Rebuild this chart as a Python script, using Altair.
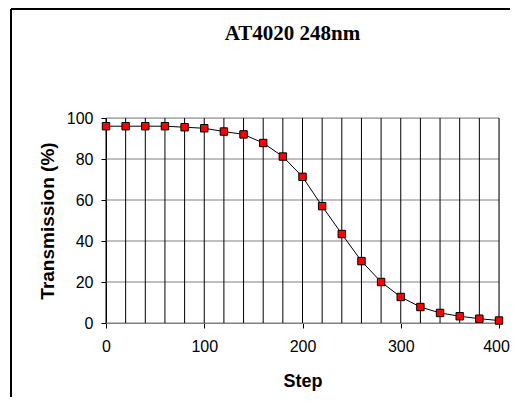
import altair as alt
import pandas as pd

steps = [0, 20, 40, 60, 80, 100, 120, 140, 160, 180, 200, 220, 240, 260, 280, 300, 320, 340, 360, 380, 400]
transmission = [96.0, 96.0, 96.0, 96.0, 95.5, 95.0, 93.4, 92.0, 87.8, 81.2, 71.3, 57.0, 43.4, 30.2, 20.0, 12.7, 7.8, 4.9, 3.3, 2.1, 1.2]
y_ticks = [0, 20, 40, 60, 80, 100]
x_labels = [0, 100, 200, 300, 400]

df = pd.DataFrame({"Step": steps, "Transmission": transmission})
grid_df = pd.DataFrame({"Transmission": y_ticks})

W, H = 393, 205
LEFT, TOP = 98, 110

xscale = alt.Scale(domain=[0, 400], nice=False)
yscale = alt.Scale(domain=[0, 100], nice=False)

xaxis = alt.Axis(title="Step", values=x_labels, grid=False, labelFlush=False,
                 labelOffset={"condition": {"test": "datum.value == 400", "value": -3}, "value": 0},
                 labelFont="Liberation Sans", labelFontSize=16, labelColor="black",
                 labelPadding=10, tickSize=5, tickColor="black",
                 domainColor="#808080", titleFont="Liberation Sans", titleFontSize=18,
                 titleFontWeight="bold", titleColor="black", titleY=63,
                 titleBaseline="alphabetic")
yaxis = alt.Axis(title="Transmission (%)", values=y_ticks, labelFlush=False, grid=False,
                 labelFont="Liberation Sans", labelFontSize=16, labelColor="black",
                 labelPadding=8, tickSize=5, tickColor="black",
                 domainColor="black", titleFont="Liberation Sans", titleFontSize=19,
                 titleFontWeight="bold", titleColor="black", titleX=-53,
                 titleBaseline="alphabetic")

xs = alt.X("Step:Q", scale=xscale, axis=xaxis)
ys = alt.Y("Transmission:Q", scale=yscale, axis=yaxis)

hgrid = alt.Chart(grid_df).mark_rule(color="#808080", strokeWidth=1).encode(
    y=ys, x=alt.value(0), x2=alt.value(W))

vgrid = alt.Chart(df).mark_rule(color="black", strokeWidth=1).encode(
    x=xs, y=alt.value(0), y2=alt.value(H))

frame_top = alt.Chart(df).mark_rule(color="black", strokeWidth=1.2).encode(
    x=alt.value(11 - 8 - LEFT), x2=alt.value(700), y=alt.value(9 - 8 - TOP))
frame_left = alt.Chart(df).mark_rule(color="black", strokeWidth=1.2).encode(
    x=alt.value(11 - 8 - LEFT), y=alt.value(9 - 8 - TOP), y2=alt.value(600))

line = alt.Chart(df).mark_line(color="black", strokeWidth=1).encode(x=xs, y=ys)
pts = alt.Chart(df).mark_point(shape="square", filled=True, fill="#ff0000", stroke="black",
                               strokeWidth=1, size=55, opacity=1).encode(x=xs, y=ys)

chart = alt.layer(hgrid, vgrid, frame_top, frame_left, line, pts).properties(
    width=W, height=H,
    title=alt.TitleParams("AT4020 248nm", font="Liberation Serif", fontSize=21,
                          fontWeight="bold", color="black", anchor="middle", dx=-10,
                          offset=-53, baseline="alphabetic"),
    autosize=alt.AutoSizeParams(type="none"),
    padding={"left": LEFT, "top": TOP, "right": 11, "bottom": 74},
).configure_view(stroke=None).configure(background="white")

chart.save("out.html", embed_options={"renderer": "svg", "actions": False})
